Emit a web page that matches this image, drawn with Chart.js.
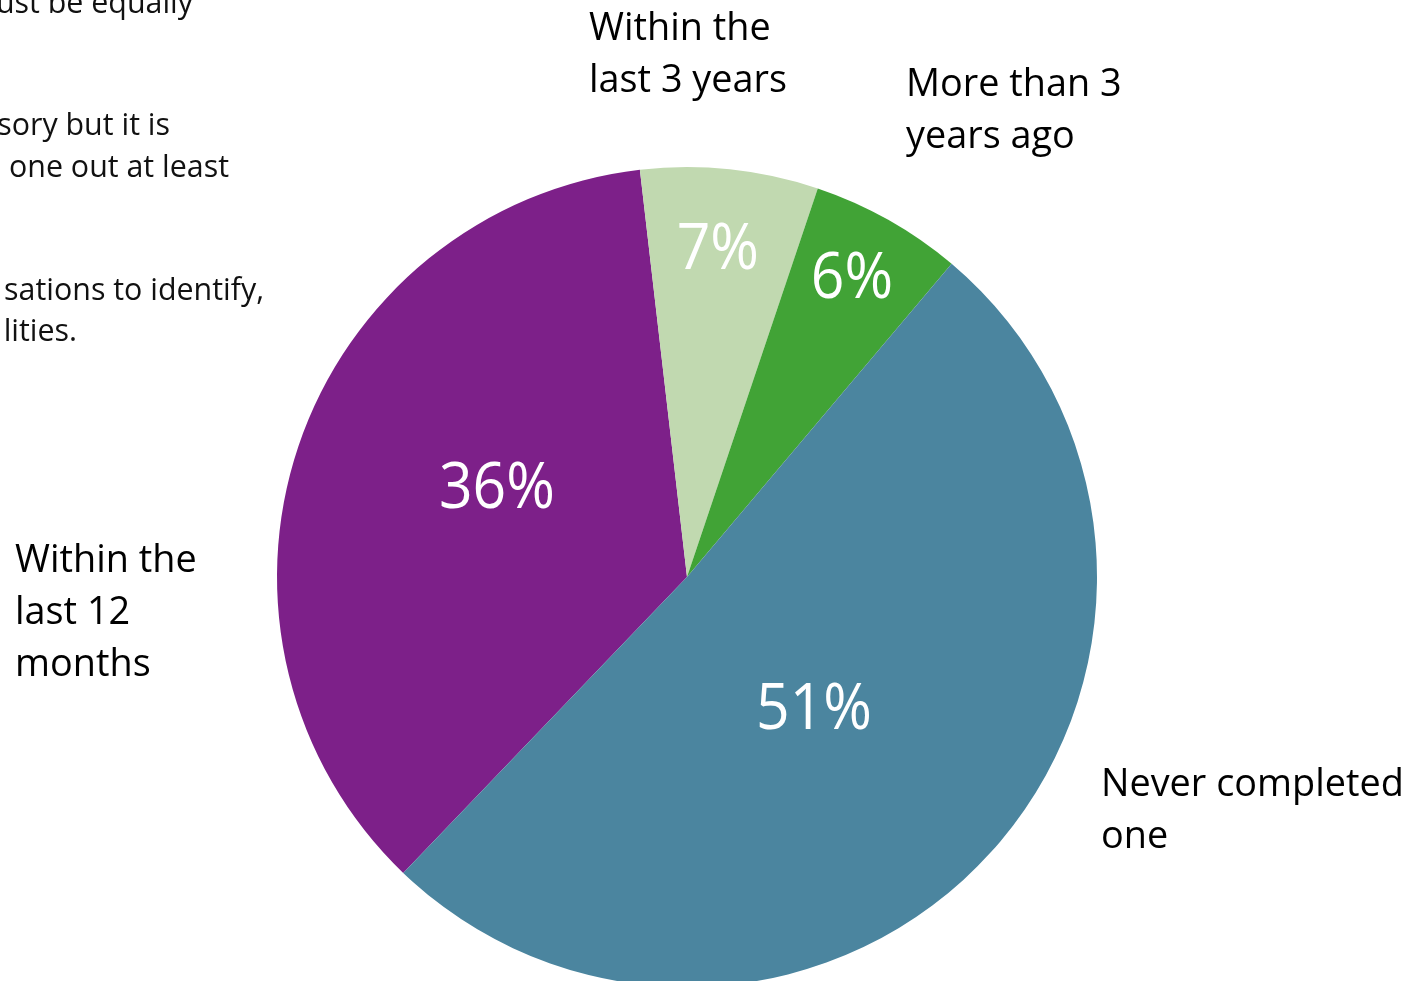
<!DOCTYPE html>
<html>
<head>
<meta charset="utf-8">
<script src="https://cdn.jsdelivr.net/npm/chart.js@4"></script>
<style>
  html, body { margin: 0; padding: 0; background: #fff; overflow: hidden; }
  #pieChart { display: block; }
</style>
</head>
<body>
<canvas id="pieChart" width="1424" height="981"></canvas>
<script>
const categories = ["Within the last 12 months", "Within the last 3 years", "More than 3 years ago", "Never completed one"];
const shares = [36, 7, 6, 51];
const sliceColours = ["#7d2089", "#c1d9b0", "#41a336", "#4b859f"];

// wrapped label lines and where each label block starts (left x, first baseline)
const labelLines = [["Within the", "last 12", "months"], ["Within the", "last 3 years"], ["More than 3", "years ago"], ["Never completed", "one"]];
const labelSpots = [[15, 572], [589, 40], [906, 96], [1101, 796]];

// cut-off text from the neighbouring column (right end x, baseline)
const sideText = ["ust be equally", "sory but it is", "one out at least", "sations to identify,", "lities."];
const sideSpots = [[193, 13], [170, 135], [229, 177], [264, 300], [77, 341]];

// where the percentage sits inside each slice: radius fraction, angle shift (deg)
const pctRadius = [0.51, 0.8, 0.83, 0.45];
const pctShift = [6, -0.6, -0.4, 4.5];

const FONT = "'Open Sans', 'Noto Sans', sans-serif";

const textPlugin = {
  id: "pieText",
  afterDatasetsDraw(chart) {
    const ctx = chart.ctx;
    const arcs = chart.getDatasetMeta(0).data;
    ctx.save();

    // percentages
    ctx.fillStyle = "#fff";
    ctx.font = "400 64px " + FONT;
    ctx.textAlign = "center";
    ctx.textBaseline = "middle";
    arcs.forEach((arc, i) => {
      const mid = (arc.startAngle + arc.endAngle) / 2 + (pctShift[i] * Math.PI) / 180;
      const r = arc.outerRadius * pctRadius[i];
      const x = arc.x + Math.cos(mid) * r;
      const y = arc.y + Math.sin(mid) * r;
      ctx.save();
      ctx.translate(x, y);
      ctx.scale(0.92, 1);
      ctx.fillText(shares[i] + "%", 0, 0);
      ctx.restore();
    });

    // category labels
    ctx.fillStyle = "#000";
    ctx.font = "400 39px " + FONT;
    ctx.textAlign = "left";
    ctx.textBaseline = "alphabetic";
    labelLines.forEach((lines, i) => {
      const [lx, ly] = labelSpots[i];
      lines.forEach((line, j) => {
        ctx.save();
        ctx.translate(lx, ly + j * 52);
        ctx.scale(0.97, 1);
        ctx.fillText(line, 0, 0);
        ctx.restore();
      });
    });

    // clipped neighbouring text
    ctx.fillStyle = "#111";
    ctx.font = "400 31px " + FONT;
    ctx.textAlign = "right";
    sideText.forEach((t, i) => {
      const [rx, ry] = sideSpots[i];
      ctx.save();
      ctx.translate(rx, ry);
      ctx.scale(0.98, 1);
      ctx.fillText(t, 0, 0);
      ctx.restore();
    });

    ctx.restore();
  },
};

const pieCtx = document.getElementById("pieChart").getContext("2d");

const pieChart = new Chart(pieCtx, {
  type: "pie",
  data: {
    labels: categories,
    datasets: [
      {
        data: shares,
        backgroundColor: sliceColours,
        borderWidth: 0,
        hoverOffset: 0,
      },
    ],
  },
  options: {
    responsive: false,
    animation: false,
    rotation: -136.2,
    radius: 410,
    layout: {
      padding: { left: 0, right: 50, top: 173, bottom: 0 },
    },
    plugins: {
      legend: { display: false },
      tooltip: { enabled: false },
    },
  },
  plugins: [textPlugin],
});
</script>
</body>
</html>
